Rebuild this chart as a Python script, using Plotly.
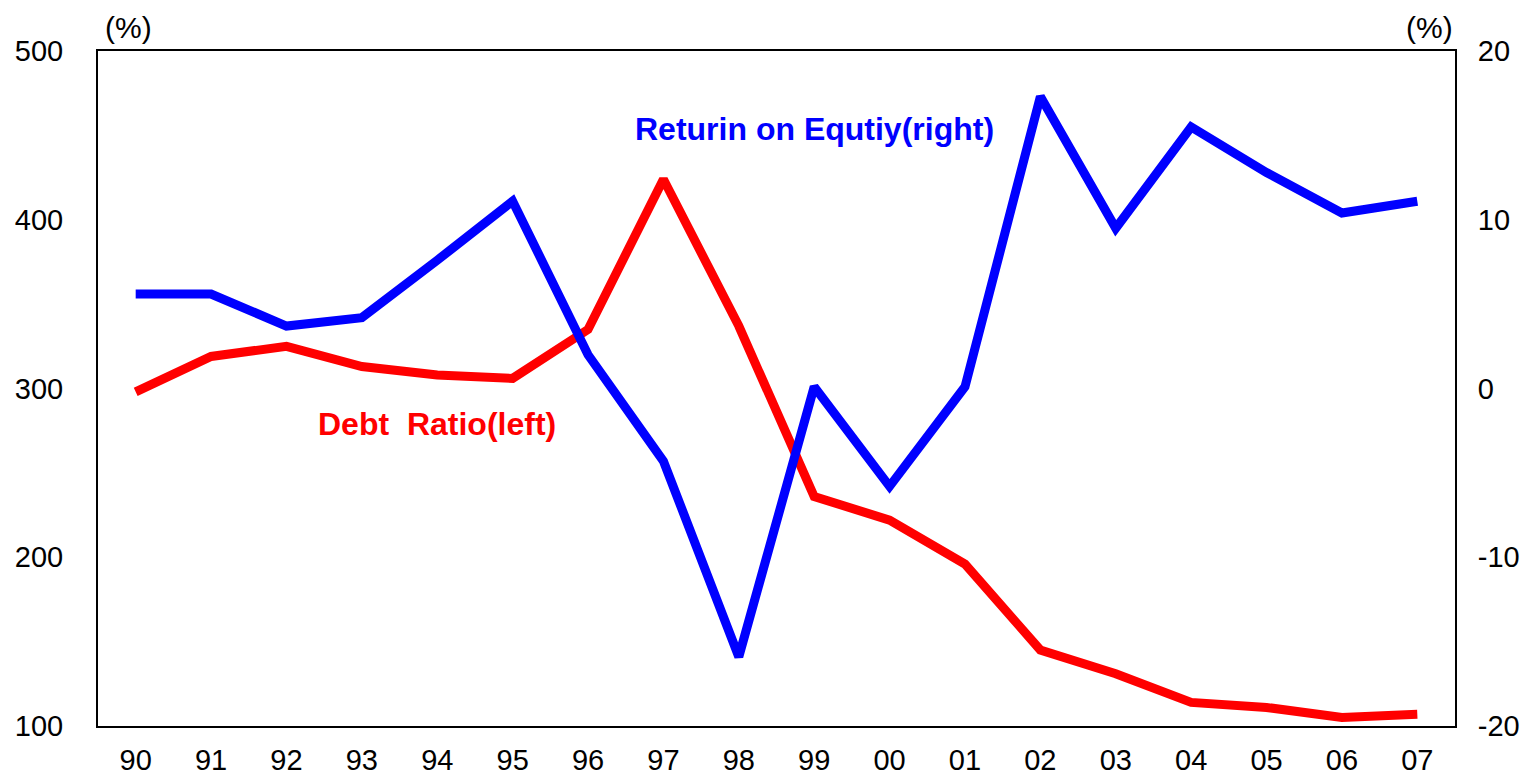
import plotly.graph_objects as go

# data
years = ["90", "91", "92", "93", "94", "95", "96", "97", "98", "99",
         "00", "01", "02", "03", "04", "05", "06", "07"]
debt_ratio = [298, 319, 325, 313, 308, 306, 335, 424, 337, 236,
              222, 196, 145, 131, 114, 111, 105, 107]
roe = [5.6, 5.6, 3.7, 4.2, 7.6, 11.1, 2.0, -4.3, -15.9, 0.1,
       -5.8, 0.1, 17.3, 9.5, 15.5, 12.8, 10.4, 11.1]
left_ticks = [100, 200, 300, 400, 500]
right_ticks = [-20, -10, 0, 10, 20]

font_name = "Liberation Sans, Arial, sans-serif"

fig = go.Figure()

fig.add_trace(go.Scatter(
    x=years, y=debt_ratio, mode="lines",
    line=dict(color="#ff0000", width=9),
    name="Debt Ratio(left)", yaxis="y"
))
fig.add_trace(go.Scatter(
    x=years, y=roe, mode="lines",
    line=dict(color="#0000ff", width=9),
    name="Returin on Equtiy(right)", yaxis="y2"
))

# page body adds ~8px offset, so size/margins compensate for it
fig.update_layout(
    width=1515, height=769,
    margin=dict(l=90, r=68, t=43, b=51),
    paper_bgcolor="white", plot_bgcolor="white",
    showlegend=False,
    font=dict(family=font_name, size=29, color="black"),
    xaxis=dict(
        type="category", showgrid=False, zeroline=False,
        showline=True, linecolor="black", linewidth=2, mirror=True,
        ticks="", tickfont=dict(size=29), automargin=False,
        ticklabelstandoff=7,
        range=[-0.5, len(years) - 0.5],
    ),
    yaxis=dict(
        range=[100, 500], tickvals=left_ticks,
        ticktext=[str(v) for v in left_ticks],
        showgrid=False, zeroline=False,
        showline=True, linecolor="black", linewidth=2,
        ticks="", ticklabelstandoff=27, tickfont=dict(size=29),
        automargin=False,
    ),
    yaxis2=dict(
        range=[-20, 20], tickvals=right_ticks,
        ticktext=[str(v) for v in right_ticks],
        overlaying="y", side="right",
        showgrid=False, zeroline=False,
        showline=True, linecolor="black", linewidth=2,
        ticks="", ticklabelstandoff=15, tickfont=dict(size=29),
        automargin=False,
    ),
    annotations=[
        dict(text="(%)", xref="paper", yref="paper", x=0.004, y=1.0,
             xanchor="left", yanchor="bottom", showarrow=False,
             font=dict(size=30), yshift=5),
        dict(text="(%)", xref="paper", yref="paper", x=1.0, y=1.0,
             xanchor="right", yanchor="bottom", showarrow=False,
             font=dict(size=30), yshift=5),
        dict(text="<b>Returin on Equtiy(right)</b>", x=years.index("99"),
             y=15.4, xref="x", yref="y2", showarrow=False,
             font=dict(size=32, color="#0000ff")),
        dict(text="<b>Debt  Ratio(left)</b>", x=years.index("94"),
             y=279, xref="x", yref="y", showarrow=False,
             font=dict(size=32, color="#ff0000")),
    ],
)

fig.write_html("out.html")
